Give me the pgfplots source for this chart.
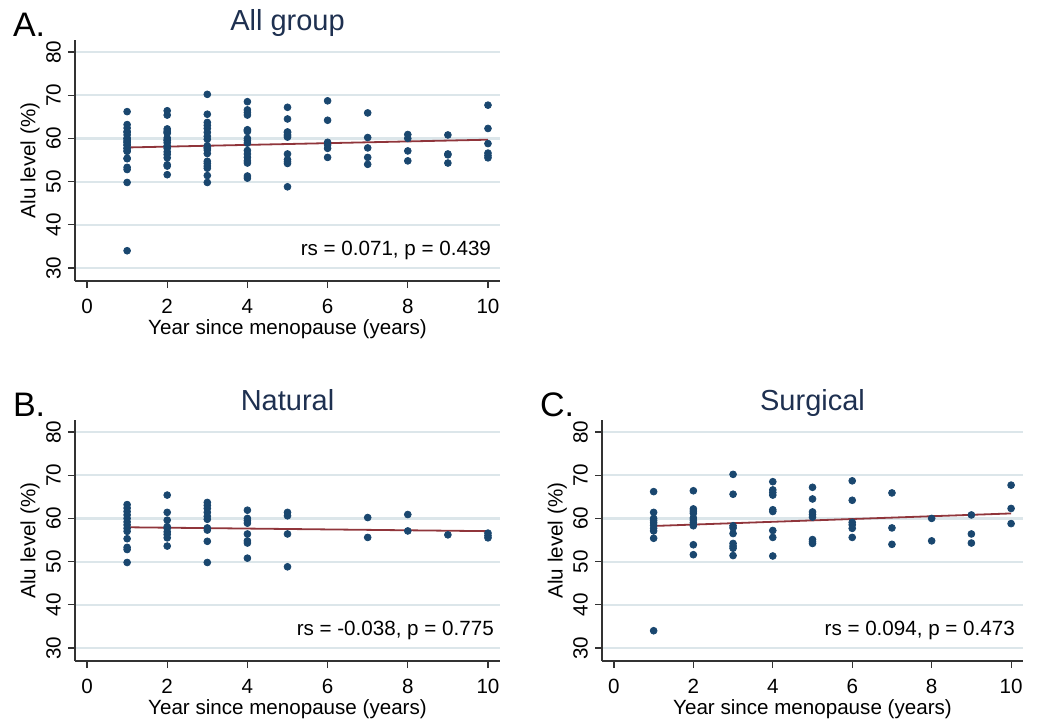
\documentclass[border=0pt]{standalone}
\usepackage{fontspec}
\setmainfont{Liberation Sans}
\usepackage{pgfplots}
\usepackage{pgfplotstable}
\pgfplotsset{compat=1.18}
\definecolor{stnavy}{HTML}{1A476F}
\definecolor{stmaroon}{HTML}{90353B}
\definecolor{gridc}{HTML}{DCE6EA}
\definecolor{axisgray}{HTML}{333333}
\definecolor{titlec}{HTML}{1E3050}

% natural menopause
\pgfplotstableread{
x y
1 63.2
1 62.4
1 61.6
1 60.8
1 60.0
1 59.2
1 58.5
1 57.7
1 57.0
1 55.3
1 53.3
1 52.8
1 49.8
2 65.4
2 61.4
2 59.6
2 58.1
2 57.7
2 56.9
2 56.3
2 55.5
2 53.6
3 63.7
3 63.0
3 62.3
3 61.4
3 60.5
3 59.8
3 57.8
3 57.3
3 54.7
3 49.8
4 61.9
4 60.0
4 59.5
4 58.9
4 56.4
4 54.8
4 54.3
4 50.8
5 61.4
5 60.6
5 56.4
5 48.8
7 60.2
7 55.6
8 60.9
8 57.1
9 56.2
10 56.6
10 56.0
10 55.5
}\natural

% surgical menopause
\pgfplotstableread{
x y
1 66.2
1 61.4
1 60.0
1 59.5
1 59.0
1 58.4
1 57.7
1 57.1
1 55.4
1 34.0
2 66.4
2 62.2
2 61.7
2 61.2
2 60.1
2 59.6
2 59.0
2 58.3
2 53.9
2 51.6
3 70.2
3 65.6
3 58.3
3 57.8
3 56.5
3 54.2
3 53.6
3 53.1
3 51.4
4 68.5
4 66.6
4 66.0
4 65.4
4 62.0
4 61.6
4 57.2
4 55.6
4 51.3
5 67.2
5 64.5
5 61.5
5 60.9
5 60.3
5 55.1
5 54.6
5 54.2
6 68.7
6 64.2
6 59.1
6 58.5
6 57.7
6 55.6
7 65.9
7 57.8
7 54.0
8 60.0
8 54.8
9 60.8
9 56.4
9 54.3
10 67.7
10 62.3
10 58.8
}\surgical

\pgfplotsset{
  stata/.style={
    scale only axis, width=212.5pt, height=120.5pt,
    xmin=-0.3, xmax=10.3, ymin=26.99, ymax=82.78,
    axis x line*=bottom, axis y line*=left,
    axis line style={line width=0.6pt, color=axisgray, -},
    xtick={0,2,...,10}, ytick={30,40,...,80},
    tick align=outside, major tick length=3.5pt,
    tick style={line width=0.6pt, color=axisgray},
    ymajorgrids, grid style={line width=1.1pt, color=gridc},
    /pgf/number format/assume math mode=true,
    tick label style={font=\fontsize{10.3}{12}\selectfont},
    yticklabel style={rotate=90, anchor=south},
    xticklabel style={yshift=-2pt},
    xlabel={Year since menopause (years)}, ylabel={Alu level (\%)},
    every axis x label/.style={at={(axis description cs:0.5,0)}, anchor=center, yshift=-24pt},
    every axis y label/.style={at={(axis description cs:-0.106,0.5)}, anchor=center, rotate=90},
    label style={font=\fontsize{10.3}{12}\selectfont},
    title style={at={(axis description cs:0.5,1)}, anchor=base, yshift=-1.3pt, font=\fontsize{14.5}{16}\selectfont, color=titlec},
    clip=false,
  },
  dots/.style={only marks, mark=*, mark size=1.7pt, color=stnavy, mark options={draw=stnavy, fill=stnavy}},
  fit/.style={no marks, color=stmaroon, line width=0.9pt},
}
\tikzset{panel/.style={anchor=base west, font=\fontsize{17}{19}\selectfont, xshift=-34.5pt, yshift=1.65pt}}

\begin{document}
\begin{tikzpicture}
\useasboundingbox (0,0) rectangle (524pt,359.5pt);

\begin{axis}[stata, at={(37.5pt,219pt)}, anchor=south west, title={All group}]
\addplot[dots] table[x=x,y=y] {\natural};
\addplot[dots] table[x=x,y=y] {\surgical};
\addplot[fit] coordinates {(1,57.9) (10,59.7)};
\node[anchor=base east, font=\fontsize{10.3}{12}\selectfont] at (axis cs:10.25,33.0) {rs = 0.071, p = 0.439};
\node[panel] at (rel axis cs:0,1) {A.};
\end{axis}

\begin{axis}[stata, at={(37.5pt,29pt)}, anchor=south west, title={Natural}]
\addplot[dots] table[x=x,y=y] {\natural};
\addplot[fit] coordinates {(1,57.95) (10,57.05)};
\node[anchor=base east, font=\fontsize{10.3}{12}\selectfont] at (axis cs:10.32,33.0) {rs = -0.038, p = 0.775};
\node[panel] at (rel axis cs:0,1) {B.};
\end{axis}

\begin{axis}[stata, width=210.5pt, at={(301pt,29pt)}, anchor=south west, title={Surgical}]
\addplot[dots] table[x=x,y=y] {\surgical};
\addplot[fit] coordinates {(1,58.25) (10,61.15)};
\node[anchor=base east, font=\fontsize{10.3}{12}\selectfont] at (axis cs:10.27,32.8) {rs = 0.094, p = 0.473};
\node[panel] at (rel axis cs:0,1) {C.};
\end{axis}
\end{tikzpicture}
\end{document}
